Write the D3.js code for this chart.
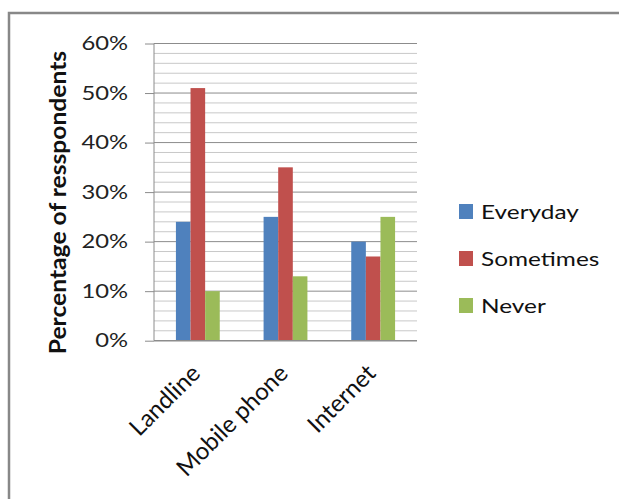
<!DOCTYPE html>
<html><head><meta charset="utf-8">
<script src="https://cdn.jsdelivr.net/npm/d3@7"></script>
<style>body{margin:0;background:#fff}</style>
</head><body>
<svg id="c" width="619" height="499"></svg>
<script>
const categories = ["Landline", "Mobile phone", "Internet"];
const seriesNames = ["Everyday", "Sometimes", "Never"];
const everyday = [24, 25, 20];
const sometimes = [51, 35, 17];
const never = [10, 13, 25];
const yTicks = [0, 10, 20, 30, 40, 50, 60];
const colors = ["#4F81BD", "#C0504D", "#9BBB59"];
const seriesValues = [everyday, sometimes, never];

(function () {
const svg = d3.select("#c");
const font = "Lato, 'Open Sans', sans-serif";

// outer border
svg.append("path").attr("d", "M9,499 V13 H619").attr("fill", "none")
  .attr("stroke", "#888").attr("stroke-width", 2.5);

const pL = 154, pR = 417, pT = 43.5, pB = 340.7;
const x = d3.scaleBand().domain(categories).range([pL, pR]).paddingInner(0.5).paddingOuter(0.25);
const y = d3.scaleLinear().domain([0, 60]).range([pB, pT]);
const xs = d3.scaleBand().domain(seriesNames).range([0, x.bandwidth()]);

// gridlines
const g = svg.append("g");
g.selectAll("line.minor").data(d3.range(0, 61, 2).filter(v => v % 10 !== 0)).join("line")
  .attr("class", "minor")
  .attr("x1", pL).attr("x2", pR).attr("y1", d => y(d)).attr("y2", d => y(d))
  .attr("stroke", "#c8c8c8").attr("stroke-width", 1);
g.selectAll("line.major").data(yTicks.filter(v => v > 0)).join("line")
  .attr("class", "major")
  .attr("x1", pL).attr("x2", pR).attr("y1", d => y(d)).attr("y2", d => y(d))
  .attr("stroke", "#8c8c8c").attr("stroke-width", 1);

// bars
seriesNames.forEach((s, i) => {
  svg.append("g").selectAll("rect").data(categories).join("rect")
    .attr("x", d => x(d) + xs(s))
    .attr("y", (d, j) => y(seriesValues[i][j]))
    .attr("width", xs.bandwidth())
    .attr("height", (d, j) => pB - y(seriesValues[i][j]))
    .attr("fill", colors[i]);
});

// y axis
const ya = svg.append("g").attr("transform", `translate(${pL},0)`)
  .call(d3.axisLeft(y).tickValues(yTicks).tickFormat(d => d + "%").tickSize(9).tickPadding(17));
ya.select(".domain").attr("stroke", "#8c8c8c").attr("d", `M0,${pT}V${pB}`);
ya.selectAll(".tick line").attr("stroke", "#8c8c8c");
ya.selectAll(".tick text").attr("x", null).attr("transform", "translate(-26,0) scale(1.25,1)")
  .attr("font-family", font).attr("font-size", 19).attr("fill", "#222");
// x axis baseline
svg.append("line").attr("x1", pL).attr("x2", pR).attr("y1", pB).attr("y2", pB)
  .attr("stroke", "#8c8c8c").attr("stroke-width", 1.5);

// category labels
svg.append("g").selectAll("text").data(categories).join("text")
  .attr("transform", d => `translate(${x(d) + x.bandwidth() / 2 + 4},${pB + 34}) rotate(-45)`)
  .attr("text-anchor", "end").attr("font-family", font).attr("font-size", 24).attr("fill", "#111")
  .text(d => d);

// y title
svg.append("text").attr("transform", `translate(66,${(50 + 355) / 2}) rotate(-90) scale(1.12,1)`)
  .attr("text-anchor", "middle").attr("font-family", font).attr("font-weight", "bold")
  .attr("font-size", 22).attr("fill", "#111").text("Percentage of resspondents");

// legend
const lg = svg.append("g");
seriesNames.forEach((s, i) => {
  const cy = 211 + i * 47;
  lg.append("rect").attr("x", 459).attr("y", cy - 7).attr("width", 14).attr("height", 15).attr("fill", colors[i]);
  lg.append("text").attr("transform", `translate(481,${cy + 8}) scale(1.22,1)`).attr("font-family", font)
    .attr("font-size", 20).attr("fill", "#111").text(s);
});
})();
</script>
</body></html>
